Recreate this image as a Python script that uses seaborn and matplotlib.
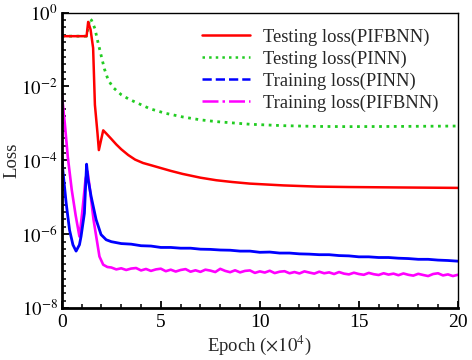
import numpy as np
import pandas as pd
import matplotlib
matplotlib.use("Agg")
import matplotlib.pyplot as plt
import seaborn as sns
from matplotlib.lines import Line2D
from matplotlib.ticker import FixedLocator, FuncFormatter, MultipleLocator

# ---------------- data (epoch in units of 1e4) ----------------
test_pifbnn_x = [0.0, 1.25, 1.33, 1.45, 1.58, 1.67, 1.80, 1.87, 2.09, 2.25, 2.5, 2.75, 3.0,
                 3.35, 3.7, 4.1, 4.5, 5.0, 5.5, 6.1, 7.0, 7.8, 8.6, 9.5, 11.2, 12.9, 14.5,
                 17.0, 20.0]
test_pifbnn_y = [0.23, 0.23, 0.56, 0.35, 0.11, 3.2e-3, 5.5e-4, 1.9e-4, 6.5e-4, 5.3e-4, 3.8e-4,
                 2.7e-4, 2.0e-4, 1.4e-4, 1.05e-4, 8.5e-5, 7.4e-5, 6.2e-5, 5.2e-5, 4.3e-5,
                 3.4e-5, 2.9e-5, 2.6e-5, 2.35e-5, 2.1e-5, 1.95e-5, 1.9e-5, 1.85e-5, 1.8e-5]

test_pinn_x = [0.0, 1.25, 1.41, 1.5, 1.67, 1.8, 1.98, 2.15, 2.34, 2.6, 3.0, 3.4, 3.85, 4.45,
               5.2, 6.1, 7.0, 7.8, 9.5, 11.2, 12.9, 14.5, 17.0, 20.0]
test_pinn_y = [0.23, 0.23, 0.70, 0.62, 0.37, 0.18, 0.071, 0.030, 0.0150, 9.3e-3, 6.0e-3,
               4.5e-3, 3.5e-3, 2.5e-3, 1.9e-3, 1.5e-3, 1.25e-3, 1.12e-3, 9.5e-4, 8.7e-4,
               8.3e-4, 8.2e-4, 8.3e-4, 8.5e-4]

train_pinn_x = [0.0, 0.05, 0.22, 0.39, 0.56, 0.72, 0.89, 0.97, 1.14, 1.25, 1.32, 1.48, 1.73,
                1.98, 2.24] + [2.5 + 0.5 * i for i in range(36)]
train_pinn_y = [1.26e-4, 5.5e-5, 6.9e-6, 1.3e-6, 5.2e-7, 3.5e-7, 5.2e-7, 8.7e-7, 3.7e-6,
                7.9e-5, 3.2e-5, 1.05e-5, 2.5e-6, 9.8e-7, 7.1e-7,
                6.3e-7, 5.6e-7, 5.4e-7, 4.9e-7, 4.8e-7, 4.4e-7, 4.4e-7, 4.2e-7, 4.2e-7, 3.95e-7,
                3.9e-7, 3.75e-7, 3.7e-7, 3.5e-7, 3.5e-7, 3.25e-7, 3.3e-7, 3.1e-7, 3.1e-7, 2.95e-7,
                2.9e-7, 2.8e-7, 2.8e-7, 2.65e-7, 2.6e-7, 2.45e-7, 2.45e-7, 2.35e-7, 2.35e-7,
                2.25e-7, 2.2e-7, 2.1e-7, 2.1e-7, 2.0e-7, 1.95e-7, 1.87e-7]

train_pifbnn_x = [0.0, 0.15, 0.3, 0.5, 0.7, 0.89, 0.95, 1.05, 1.2, 1.3, 1.4, 1.6, 1.75, 1.9,
                  2.09, 2.3] + [2.5 + 0.25 * i for i in range(71)]
train_pifbnn_y = [6.3e-3, 1.0e-3, 1.26e-4, 1.6e-5, 3.2e-6, 8.7e-7, 1.6e-6, 5.0e-6, 3.2e-5,
                  5.0e-5, 2.0e-5, 2.5e-6, 7.9e-7, 2.5e-7, 1.5e-7, 1.3e-7,
                  1.26e-7, 1.12e-7, 1.20e-7, 1.08e-7, 1.18e-7, 1.22e-7, 1.05e-7, 1.15e-7,
                  1.02e-7, 1.12e-7, 1.17e-7, 1.00e-7, 1.10e-7, 0.98e-7, 1.08e-7, 1.14e-7,
                  0.97e-7, 1.06e-7, 0.96e-7, 1.10e-7, 1.04e-7, 0.95e-7, 1.16e-7, 1.02e-7,
                  0.94e-7, 1.06e-7, 0.93e-7, 1.02e-7, 1.05e-7, 0.90e-7, 0.99e-7, 0.92e-7,
                  1.03e-7, 0.89e-7, 0.97e-7, 1.00e-7, 0.88e-7, 0.95e-7, 0.87e-7, 0.99e-7,
                  0.92e-7, 0.86e-7, 0.97e-7, 0.88e-7, 0.93e-7, 0.84e-7, 0.95e-7, 0.86e-7,
                  0.82e-7, 0.91e-7, 0.84e-7, 0.80e-7, 0.90e-7, 0.83e-7, 0.79e-7, 0.88e-7,
                  0.81e-7, 0.86e-7, 0.78e-7, 0.87e-7, 0.80e-7, 0.76e-7, 0.85e-7, 0.79e-7,
                  0.74e-7, 0.84e-7, 0.88e-7, 0.77e-7, 0.82e-7, 0.74e-7, 0.80e-7]

labels = ["Testing loss(PIFBNN)", "Testing loss(PINN)", "Training loss(PINN)",
          "Training loss(PIFBNN)"]
colors = ["#ff0000", "#22cc22", "#0000ff", "#ff00ff"]
legend_styles = ["-", ":", "--", "-."]
y_major = [1e-8, 1e-6, 1e-4, 1e-2, 1e0]

# ---------------- style ----------------
sns.set_theme(style="ticks")
plt.rcParams["font.family"] = ["Liberation Serif", "DejaVu Serif"]
plt.rcParams["mathtext.fontset"] = "stix"

fig = plt.figure(figsize=(4.72, 3.6), dpi=100)
ax = fig.add_axes([0.131, 0.144, 0.839, 0.821])

series = [(test_pifbnn_x, test_pifbnn_y, "-", 1.8),
          (test_pinn_x, test_pinn_y, ":", 2.0),
          (train_pinn_x, train_pinn_y, "-", 2.0),
          (train_pifbnn_x, train_pifbnn_y, "-", 1.9)]
order = [3, 2, 1, 0]
for i in order:
    xs, ys, ls, lw = series[i]
    df = pd.DataFrame({"epoch": xs, "loss": ys})
    sns.lineplot(data=df, x="epoch", y="loss", ax=ax, color=colors[i], linestyle=ls,
                 linewidth=lw, legend=False, sort=False, estimator=None)

ax.set_yscale("log")
ax.set_xlim(0, 20)
ax.set_ylim(1e-8, 1)

ax.yaxis.set_major_locator(FixedLocator(y_major))
minor = [10 ** (k * 0.2) for k in range(-40, 1) if k % 10 != 0]
ax.yaxis.set_minor_locator(FixedLocator(minor))
ax.yaxis.set_major_formatter(FuncFormatter(lambda v, p: r"$10^{%d}$" % round(np.log10(v))))
ax.yaxis.set_minor_formatter(FuncFormatter(lambda v, p: ""))
ax.xaxis.set_major_locator(MultipleLocator(5))
ax.xaxis.set_minor_locator(MultipleLocator(1))

ax.tick_params(axis="both", which="both", direction="in", top=False, right=False,
               colors="black")
ax.tick_params(axis="x", labelsize=14, pad=4)
ax.tick_params(axis="y", labelsize=13.5, pad=3)
ax.tick_params(which="major", length=5, width=1.3)
ax.tick_params(which="minor", length=3, width=1.1)

for s in ["left", "bottom"]:
    ax.spines[s].set_linewidth(2.0)
for s in ["top", "right"]:
    ax.spines[s].set_linewidth(1.0)
for s in ax.spines.values():
    s.set_color("black")

ax.set_xlabel(r"Epoch ($\times10^{4}$)", fontsize=13.5, labelpad=2)
ax.set_ylabel("Loss", fontsize=13.5)
ax.yaxis.set_label_coords(-0.104, 0.5)

handles = [Line2D([], [], color=c, linestyle=s, linewidth=1.8)
           for c, s in zip(colors, legend_styles)]
ax.legend(handles, labels, loc="upper left", bbox_to_anchor=(0.354, 0.946), frameon=False,
          fontsize=13.3, handlelength=2.6, handletextpad=0.7, labelspacing=0.25,
          borderpad=0, borderaxespad=0)

fig.savefig("out.png", dpi=100)
